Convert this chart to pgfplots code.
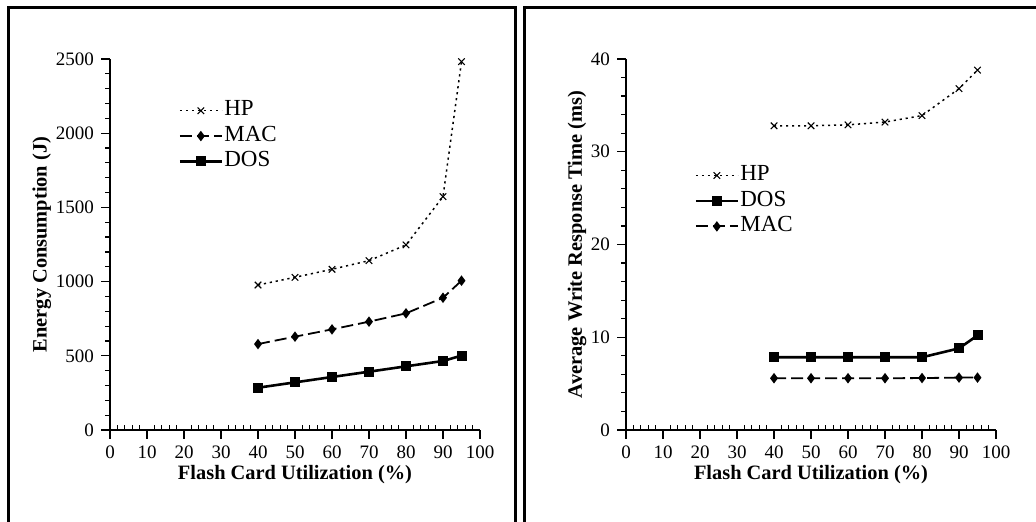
\documentclass[border=0pt]{standalone}
\usepackage{fontspec}
\setmainfont{Liberation Serif}
\usepackage{pgfplots}
\pgfplotsset{compat=1.18}

\pgfplotsset{
  panel/.style={
    scale only axis, width=185pt, height=185.5pt, anchor=south west,
    axis x line=bottom, axis y line=left,
    axis line style={-, line width=0.8pt},
    xmin=0, xmax=100, ymin=0,
    xtick={0,10,...,100}, minor x tick num=4, minor y tick num=4,
    tick align=outside, tick style={black, line width=0.6pt},
    major tick length=4.5pt, minor tick length=2.5pt,
    minor x tick style={yshift=2.5pt},
    scaled ticks=false,
    /pgf/number format/assume math mode=true,
    /pgf/number format/1000 sep={},
    ticklabel style={font=\fontsize{9.5}{9.5}\selectfont},
    x label style={at={(axis description cs:0.5,-0.12)}, anchor=center,
      font=\fontsize{10.2}{10.2}\selectfont\bfseries},
    xlabel={Flash Card Utilization (\%)},
    legend cell align=left,
    legend style={draw=none, fill=none, font=\fontsize{11.5}{11.5}\selectfont,
      row sep=0.3pt, nodes={inner sep=0.6pt, text height=8.2pt, text depth=3pt},
      /tikz/every even column/.append style={column sep=2.2pt}},
    legend image code/.code={\draw[mark repeat=2,mark phase=2,#1]
      plot coordinates {(0pt,0pt) (10.5pt,0pt) (21pt,0pt)};},
  },
  hp/.style={black, line width=0.75pt, dash pattern=on 1.1pt off 1.9pt,
    mark=x, mark size=2.3pt, mark options={solid, line width=0.55pt}},
  mac/.style={black, line width=0.9pt, dash pattern=on 6pt off 2.5pt,
    mark=diamond*, mark size=1.9pt, mark options={solid}},
  dos/.style={black, line width=1.3pt, mark=square*, mark size=1.85pt,
    mark options={solid}},
}

\begin{document}
\begin{tikzpicture}
\useasboundingbox (0pt,0pt) rectangle (518pt,261pt);
\draw[line width=1.5pt] (4pt,-2pt) -- (4pt,257pt) -- (257.5pt,257pt) -- (257.5pt,-2pt);
\draw[line width=1.5pt] (262pt,-2pt) -- (262pt,257pt) -- (520pt,257pt);

\begin{axis}[panel, at={(55pt,46pt)}, ymax=2500, ytick={0,500,...,2500},
  y label style={at={(axis description cs:-0.184,0.5)}, anchor=center,
    font=\fontsize{10.2}{10.2}\selectfont\bfseries},
  ylabel={Energy Consumption (J)},
  legend style={at={(axis description cs:0.168,0.906)}, anchor=north west}]
\addplot[hp] coordinates {(40,977)(50,1029)(60,1083)(70,1141)(80,1247)(90,1572)(95,2482)};
\addlegendentry{HP}
\addplot[mac] coordinates {(40,579)(50,629)(60,678)(70,730)(80,786)(90,891)(95,1006)};
\addlegendentry{MAC}
\addplot[dos] coordinates {(40,285)(50,321)(60,357)(70,393)(80,429)(90,465)(95,501)};
\addlegendentry{DOS}
\end{axis}

\begin{axis}[panel, at={(313pt,46pt)}, ymax=40, ytick={0,10,...,40},
  y label style={at={(axis description cs:-0.132,0.5)}, anchor=center,
    font=\fontsize{10.2}{10.2}\selectfont\bfseries},
  ylabel={Average Write Response Time (ms)},
  legend style={at={(axis description cs:0.168,0.731)}, anchor=north west}]
\addplot[hp] coordinates {(40,32.8)(50,32.8)(60,32.9)(70,33.2)(80,33.9)(90,36.8)(95,38.8)};
\addlegendentry{HP}
\addplot[dos] coordinates {(40,7.84)(50,7.84)(60,7.84)(70,7.84)(80,7.84)(90,8.8)(95,10.2)};
\addlegendentry{DOS}
\addplot[mac] coordinates {(40,5.58)(50,5.58)(60,5.58)(70,5.58)(80,5.6)(90,5.65)(95,5.65)};
\addlegendentry{MAC}
\end{axis}
\end{tikzpicture}
\end{document}
